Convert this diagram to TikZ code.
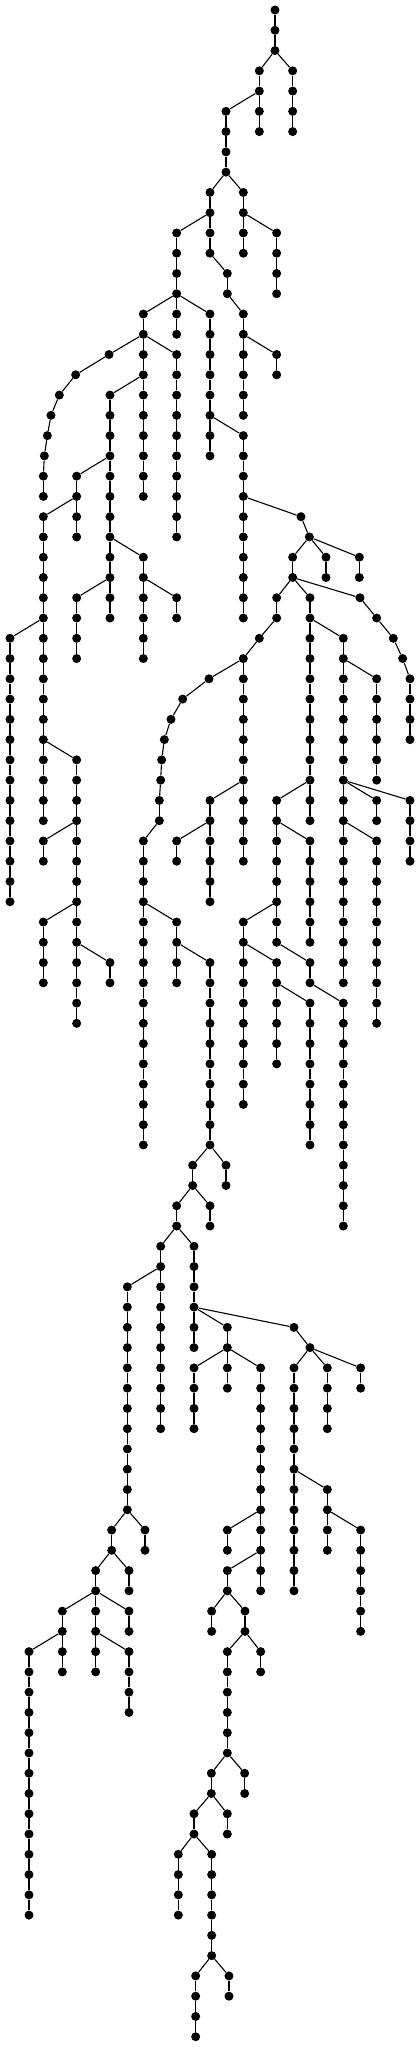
\documentclass[tikz,border=0pt]{standalone}
\begin{document}
\begin{tikzpicture}[x=0.33333pt, y=-20.267pt,
  dot/.style={circle, fill=black, inner sep=0pt, minimum size=9pt},
  edge/.style={line width=1.1pt, black}]
\useasboundingbox (0,-0.4934) rectangle (1260,100.508);
\node[dot] (n0-825) at (825,0) {};
\foreach \lv/\cx/\pa in {
1/825/825, 2/825/825,
3/778/825, 3/878/825,
4/778/778, 4/878/878,
5/678/778, 5/778/778, 5/878/878,
6/678/678, 6/778/778, 6/878/878,
7/678/678, 8/678/678,
9/630/678, 9/730/678,
10/630/630, 10/730/730,
11/530/630, 11/630/630, 11/730/730, 11/830/730,
12/530/530, 12/630/630, 12/730/730, 12/830/830,
13/530/530, 13/682/630, 13/830/830,
14/530/530, 14/682/682, 14/830/830,
15/430/530, 15/530/530, 15/630/530, 15/730/682,
16/430/430, 16/530/530, 16/630/630, 16/730/730,
17/327/430, 17/430/430, 17/530/430, 17/630/630, 17/730/730, 17/830/730,
18/227/327, 18/430/430, 18/530/530, 18/630/630, 18/730/730, 18/830/830,
19/178/227, 19/330/430, 19/430/430, 19/530/530, 19/630/630, 19/730/730,
20/153/178, 20/330/330, 20/430/430, 20/530/530, 20/630/630, 20/730/730,
21/142/153, 21/330/330, 21/430/430, 21/530/530, 21/630/630, 21/730/630,
22/133/142, 22/330/330, 22/430/430, 22/530/530, 22/630/630, 22/730/730,
23/130/133, 23/230/330, 23/330/330, 23/430/430, 23/530/530, 23/730/730,
24/130/130, 24/230/230, 24/330/330, 24/430/430, 24/530/530, 24/730/730,
25/130/230, 25/230/230, 25/330/330, 25/530/530, 25/730/730, 25/903/730,
26/130/130, 26/230/230, 26/330/330, 26/530/530, 26/730/730, 26/928/903,
27/130/130, 27/330/330, 27/430/330, 27/730/730, 27/878/928, 27/978/928, 27/1078/928,
28/130/130, 28/330/330, 28/430/430, 28/730/730, 28/878/878, 28/978/978, 28/1078/1078,
29/130/130, 29/230/330, 29/330/330, 29/430/430, 29/530/430, 29/730/730, 29/830/878, 29/930/878, 29/1080/878,
30/130/130, 30/230/230, 30/330/330, 30/430/430, 30/530/530, 30/730/730, 30/830/830, 30/930/930, 30/1130/1080,
31/30/130, 31/130/130, 31/230/230, 31/430/430, 31/778/830, 31/930/930, 31/1030/930, 31/1180/1130,
32/30/30, 32/130/130, 32/230/230, 32/430/430, 32/730/778, 32/930/930, 32/1030/1030, 32/1208/1180,
33/30/30, 33/130/130, 33/627/730, 33/730/730, 33/930/930, 33/1030/1030, 33/1130/1030, 33/1230/1208,
34/30/30, 34/130/130, 34/548/627, 34/730/730, 34/930/930, 34/1030/1030, 34/1130/1130, 34/1230/1230,
35/30/30, 35/130/130, 35/513/548, 35/730/730, 35/930/930, 35/1030/1030, 35/1130/1130, 35/1230/1230,
36/30/30, 36/130/130, 36/493/513, 36/730/730, 36/930/930, 36/1030/1030, 36/1130/1130, 36/1230/1230,
37/30/30, 37/130/130, 37/230/130, 37/485/493, 37/730/730, 37/930/930, 37/1030/1030, 37/1130/1130,
38/30/30, 38/130/130, 38/230/230, 38/482/485, 38/730/730, 38/930/930, 38/1030/1030, 38/1130/1130,
39/30/30, 39/130/130, 39/230/230, 39/478/482, 39/630/730, 39/730/730, 39/830/930, 39/930/930, 39/1030/1030, 39/1130/1030, 39/1230/1030,
40/30/30, 40/130/130, 40/230/230, 40/478/478, 40/630/630, 40/730/730, 40/830/830, 40/930/930, 40/1030/1030, 40/1130/1130, 40/1230/1230,
41/30/30, 41/130/230, 41/230/230, 41/430/478, 41/530/630, 41/630/630, 41/730/730, 41/830/830, 41/930/830, 41/1030/1030, 41/1130/1030, 41/1230/1230,
42/30/30, 42/130/130, 42/230/230, 42/430/430, 42/530/530, 42/630/630, 42/730/730, 42/830/830, 42/930/930, 42/1030/1030, 42/1130/1130, 42/1230/1230,
43/30/30, 43/230/230, 43/430/430, 43/630/630, 43/830/830, 43/930/930, 43/1030/1030, 43/1130/1130,
44/30/30, 44/230/230, 44/430/430, 44/630/630, 44/830/830, 44/930/930, 44/1030/1030, 44/1130/1130,
45/130/230, 45/230/230, 45/430/430, 45/530/430, 45/730/830, 45/830/830, 45/930/930, 45/1030/1030, 45/1130/1130,
46/130/130, 46/230/230, 46/430/430, 46/530/530, 46/730/730, 46/830/830, 46/930/930, 46/1030/1030, 46/1130/1130,
47/130/130, 47/230/230, 47/330/230, 47/430/430, 47/530/530, 47/630/530, 47/730/730, 47/830/730, 47/930/830, 47/1030/1030, 47/1130/1130,
48/130/130, 48/230/230, 48/330/330, 48/430/430, 48/530/530, 48/630/630, 48/730/730, 48/830/830, 48/930/930, 48/1030/1030, 48/1130/1130,
49/230/230, 49/430/430, 49/630/630, 49/730/730, 49/830/830, 49/930/830, 49/1030/930, 49/1130/1130,
50/230/230, 50/430/430, 50/630/630, 50/730/730, 50/830/830, 50/930/930, 50/1030/1030, 50/1130/1130,
51/430/430, 51/630/630, 51/730/730, 51/830/830, 51/930/930, 51/1030/1030,
52/430/430, 52/630/630, 52/730/730, 52/830/830, 52/930/930, 52/1030/1030,
53/430/430, 53/630/630, 53/730/730, 53/930/930, 53/1030/1030,
54/430/430, 54/630/630, 54/730/730, 54/930/930, 54/1030/1030,
55/430/430, 55/630/630, 55/930/930, 55/1030/1030,
56/430/430, 56/630/630, 56/930/930, 56/1030/1030,
57/578/630, 57/678/630, 57/1030/1030,
58/578/578, 58/678/678, 58/1030/1030,
59/530/578, 59/630/578, 59/1030/1030,
60/530/530, 60/630/630, 60/1030/1030,
61/482/530, 61/582/530,
62/482/482, 62/582/582,
63/382/482, 63/482/482, 63/582/582,
64/382/382, 64/482/482, 64/582/582,
65/382/382, 65/482/482, 65/582/582, 65/682/582, 65/882/582,
66/382/382, 66/482/482, 66/582/582, 66/682/682, 66/930/882,
67/382/382, 67/482/482, 67/582/682, 67/682/682, 67/782/682, 67/882/930, 67/982/930, 67/1082/930,
68/382/382, 68/482/482, 68/582/582, 68/682/682, 68/782/782, 68/882/882, 68/982/982, 68/1082/1082,
69/382/382, 69/482/482, 69/582/582, 69/782/782, 69/882/882, 69/982/982,
70/382/382, 70/482/482, 70/582/582, 70/782/782, 70/882/882, 70/982/982,
71/382/382, 71/782/782, 71/882/882,
72/382/382, 72/782/782, 72/882/882,
73/382/382, 73/782/782, 73/882/882, 73/982/882,
74/382/382, 74/782/782, 74/882/882, 74/982/982,
75/335/382, 75/435/382, 75/682/782, 75/782/782, 75/882/882, 75/982/982, 75/1082/982,
76/335/335, 76/435/435, 76/682/682, 76/782/782, 76/882/882, 76/982/982, 76/1082/1082,
77/287/335, 77/387/335, 77/682/782, 77/782/782, 77/882/882, 77/1082/1082,
78/287/287, 78/387/387, 78/682/682, 78/782/782, 78/882/882, 78/1082/1082,
79/187/287, 79/287/287, 79/387/287, 79/635/682, 79/735/682, 79/1082/1082,
80/187/187, 80/287/287, 80/387/387, 80/635/635, 80/735/735, 80/1082/1082,
81/87/187, 81/187/187, 81/287/287, 81/387/287, 81/682/735, 81/782/735,
82/87/87, 82/187/187, 82/287/287, 82/387/387, 82/682/682, 82/782/782,
83/87/87, 83/387/387, 83/682/682,
84/87/87, 84/387/387, 84/682/682,
85/87/87, 85/682/682,
86/87/87, 86/682/682,
87/87/87, 87/634/682, 87/734/682,
88/87/87, 88/634/634, 88/734/734,
89/87/87, 89/582/634, 89/682/634,
90/87/87, 90/582/582, 90/682/682,
91/87/87, 91/535/582, 91/635/582,
92/87/87, 92/535/535, 92/635/635,
93/87/87, 93/535/535, 93/635/635,
94/87/87, 94/535/535, 94/635/635,
95/635/635, 96/635/635,
97/587/635, 97/687/635,
98/587/587, 98/687/687,
99/587/587, 100/587/587}
{
  \pgfmathtruncatemacro\pl{\lv-1}
  \node[dot] (n\lv-\cx) at (\cx,\lv) {};
  \draw[edge] (n\pl-\pa) -- (n\lv-\cx);
}
\end{tikzpicture}
\end{document}
